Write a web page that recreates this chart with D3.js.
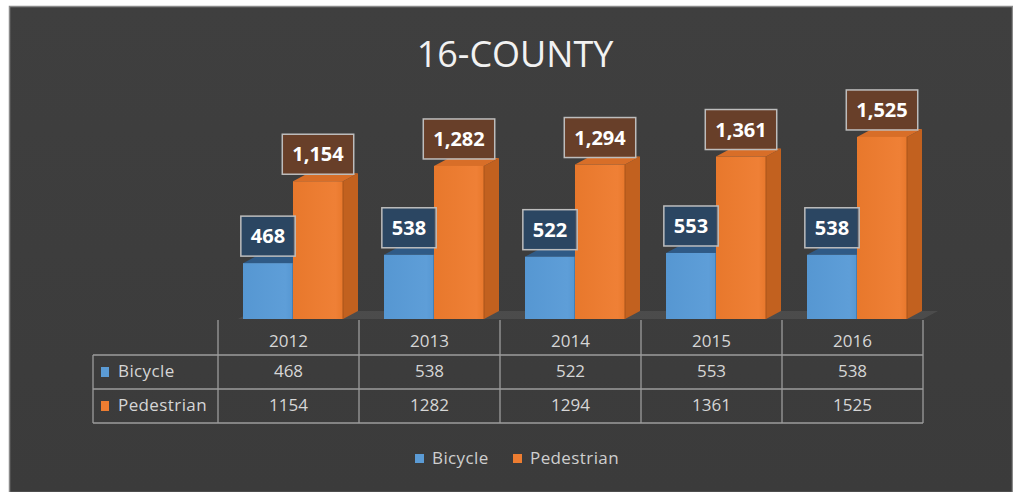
<!DOCTYPE html>
<html>
<head>
<meta charset="utf-8">
<script src="https://cdn.jsdelivr.net/npm/d3@7"></script>
<style>
  html, body { margin: 0; padding: 0; background: #ffffff; }
  svg { display: block; }
</style>
</head>
<body>
<svg id="chart" width="1013" height="492"></svg>
<script>
// Crash counts by year, 16-county region
const years = ["2012", "2013", "2014", "2015", "2016"];
const seriesNames = ["Bicycle", "Pedestrian"];
const bicycle = [468, 538, 522, 553, 538];
const pedestrian = [1154, 1282, 1294, 1361, 1525];
const title = "16-COUNTY";

const colors = {
  Bicycle: { front: "#5b9bd5", side: "#3f74a8", top: "#2f5a86", label: "rgba(40,72,104,0.85)", key: "#5b9bd5" },
  Pedestrian: { front: "#ed7d31", side: "#c2611f", top: "#d86e28", label: "rgba(112,64,38,0.85)", key: "#ed7d31" }
};

const rows = [
  { name: "Bicycle", values: bicycle },
  { name: "Pedestrian", values: pedestrian }
];

const svg = d3.select("#chart");
const W = 1013, H = 492;

// chart area background
const defs = svg.append("defs");
const bg = defs.append("linearGradient").attr("id", "bg").attr("x1", 0).attr("y1", 0).attr("x2", 0).attr("y2", 1);
bg.append("stop").attr("offset", "0%").attr("stop-color", "#3f3f3f");
bg.append("stop").attr("offset", "100%").attr("stop-color", "#3b3b3b");

const frontGrad = (id, c1, c2) => {
  const g = defs.append("linearGradient").attr("id", id).attr("x1", 0).attr("y1", 0).attr("x2", 1).attr("y2", 0);
  g.append("stop").attr("offset", "0%").attr("stop-color", c1);
  g.append("stop").attr("offset", "85%").attr("stop-color", c2);
  g.append("stop").attr("offset", "100%").attr("stop-color", c1);
};
frontGrad("gBicycle", "#5697d2", "#5e9ed8");
frontGrad("gPedestrian", "#e8782c", "#ef8036");

svg.append("rect")
  .attr("x", 9.5).attr("y", 6.5)
  .attr("width", W - 10).attr("height", H - 6)
  .attr("fill", "url(#bg)")
  .attr("stroke", "#8a8a8a").attr("stroke-width", 1.5);

// title
svg.append("text")
  .attr("x", 515).attr("y", 67)
  .attr("text-anchor", "middle")
  .attr("font-family", "Open Sans, sans-serif")
  .attr("font-size", 36)
  .attr("fill", "#f2f2f2")
  .text(title);

// scales
const x = d3.scaleBand().domain(years).range([218, 923]);
const xs = d3.scaleBand().domain(seriesNames).range([25, 125]);
const y = d3.scaleLinear().domain([0, 1600]).range([319, 128]);

const depthX = 15, depthY = -8;

// floor
const x0 = x.range()[0], x1 = x.range()[1], base = y(0);
svg.append("polygon")
  .attr("points", [
    [x0 + 20, base], [x1, base], [x1 + depthX, base + depthY], [x0 + 20 + depthX, base + depthY]
  ].map(p => p.join(",")).join(" "))
  .attr("fill", "rgba(130,130,130,0.22)");

// bars
const data = [];
years.forEach((yr, i) => {
  data.push({ year: yr, series: "Bicycle", value: bicycle[i] });
  data.push({ year: yr, series: "Pedestrian", value: pedestrian[i] });
});

const bw = xs.bandwidth();
const bars = svg.append("g").selectAll("g.bar").data(data).join("g").attr("class", "bar");

bars.each(function(d) {
  const g = d3.select(this);
  const left = x(d.year) + xs(d.series);
  const right = left + bw;
  const top = y(d.value);
  const c = colors[d.series];
  // side face
  g.append("polygon")
    .attr("points", [[right, base], [right, top], [right + depthX, top + depthY], [right + depthX, base + depthY]]
      .map(p => p.join(",")).join(" "))
    .attr("fill", c.side);
  // top face
  g.append("polygon")
    .attr("points", [[left, top], [right, top], [right + depthX, top + depthY], [left + depthX, top + depthY]]
      .map(p => p.join(",")).join(" "))
    .attr("fill", c.top);
  // front face
  g.append("rect")
    .attr("x", left).attr("y", top)
    .attr("width", bw).attr("height", base - top)
    .attr("fill", "url(#g" + d.series + ")");
  g.append("line")
    .attr("x1", right).attr("x2", right).attr("y1", top).attr("y2", base)
    .attr("stroke", d3.color(c.side).darker(0.4)).attr("stroke-width", 1);
});

// value labels
const fmt = d3.format(",");
const labels = svg.append("g").selectAll("g.lbl").data(data).join("g").attr("class", "lbl");
labels.each(function(d) {
  const g = d3.select(this);
  const cx = x(d.year) + xs(d.series) + bw / 2;
  const top = y(d.value);
  const boxBottom = top - 7;
  const txt = g.append("text")
    .attr("x", cx).attr("y", boxBottom - 13)
    .attr("text-anchor", "middle")
    .attr("font-family", "Open Sans, sans-serif")
    .attr("font-weight", "bold")
    .attr("font-size", 20)
    .attr("fill", "#ffffff")
    .text(fmt(d.value));
  const tw = txt.node().getComputedTextLength();
  const bwid = tw + 20, bh = 40;
  g.insert("rect", "text")
    .attr("x", cx - bwid / 2).attr("y", boxBottom - bh)
    .attr("width", bwid).attr("height", bh)
    .attr("fill", colors[d.series].label)
    .attr("stroke", "#bdbdbd").attr("stroke-width", 1.5);
});

// data table
const tableLeft = 93, tableRight = x1;
const rowLines = [355, 389, 423];
const gridColor = "#9c9c9c";
const tg = svg.append("g");

// column separators
tg.selectAll("line.col").data(years.concat(["end"])).join("line")
  .attr("x1", (d, i) => i < years.length ? x(d) : x1)
  .attr("x2", (d, i) => i < years.length ? x(d) : x1)
  .attr("y1", 320).attr("y2", rowLines[2])
  .attr("stroke", gridColor).attr("stroke-width", 1.3);
// row lines
tg.selectAll("line.row").data(rowLines).join("line")
  .attr("x1", tableLeft).attr("x2", tableRight)
  .attr("y1", d => d).attr("y2", d => d)
  .attr("stroke", gridColor).attr("stroke-width", 1.3);
tg.append("line")
  .attr("x1", tableLeft).attr("x2", tableLeft)
  .attr("y1", rowLines[0]).attr("y2", rowLines[2])
  .attr("stroke", gridColor).attr("stroke-width", 1.3);

const tFont = "Open Sans, sans-serif";
const tColor = "#d6d6d6";
const tSize = 17;
// year headers
tg.selectAll("text.yr").data(years).join("text")
  .attr("x", d => x(d) + x.bandwidth() / 2)
  .attr("y", 342)
  .attr("text-anchor", "middle").attr("dominant-baseline", "middle")
  .attr("font-family", tFont).attr("font-size", tSize).attr("fill", tColor)
  .text(d => d);

rows.forEach((r, ri) => {
  const cy = (rowLines[ri] + rowLines[ri + 1]) / 2;
  tg.append("rect")
    .attr("x", 101).attr("y", cy - 5).attr("width", 8).attr("height", 10)
    .attr("fill", colors[r.name].key);
  tg.append("text")
    .attr("x", 118).attr("y", cy)
    .attr("dominant-baseline", "middle")
    .attr("font-family", tFont).attr("font-size", tSize).attr("fill", tColor)
    .attr("letter-spacing", 0.4)
    .text(r.name);
  tg.selectAll(null).data(r.values).join("text")
    .attr("x", (d, i) => x(years[i]) + x.bandwidth() / 2)
    .attr("y", cy)
    .attr("text-anchor", "middle").attr("dominant-baseline", "middle")
    .attr("font-family", tFont).attr("font-size", tSize).attr("fill", tColor)
    .text(d => d);
});

// legend
const legend = svg.append("g");
const legendItems = [
  { name: "Bicycle", x: 415 },
  { name: "Pedestrian", x: 513 }
];
legendItems.forEach(it => {
  legend.append("rect")
    .attr("x", it.x).attr("y", 454).attr("width", 9).attr("height", 9)
    .attr("fill", colors[it.name].key);
  legend.append("text")
    .attr("x", it.x + 17).attr("y", 459)
    .attr("dominant-baseline", "middle")
    .attr("font-family", tFont).attr("font-size", tSize).attr("fill", "#cfcfcf")
    .attr("letter-spacing", 0.4)
    .text(it.name);
});
</script>
</body>
</html>
